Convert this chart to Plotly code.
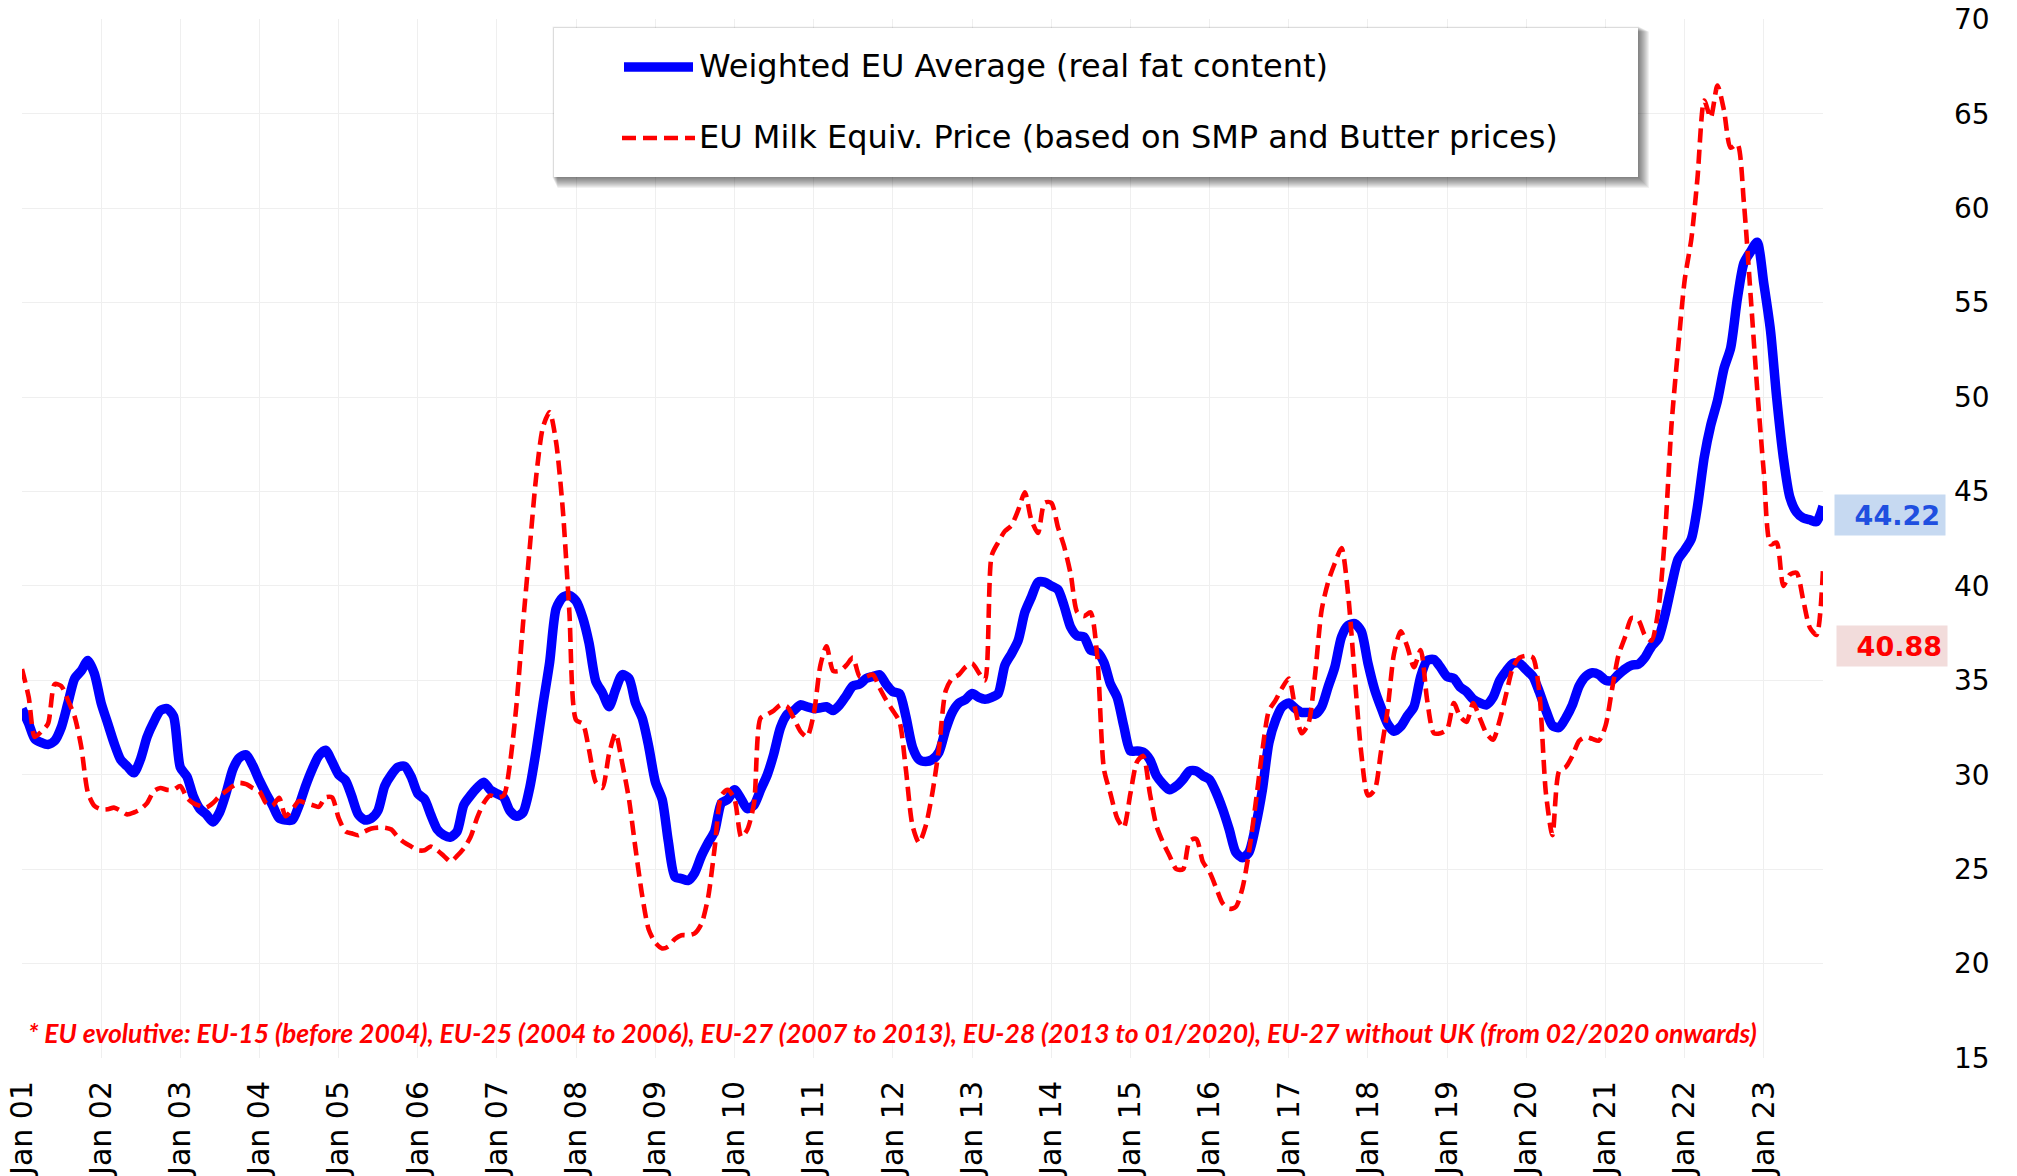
import pandas as pd
import plotly.graph_objects as go

# ---------------- data (monthly, Jan 2001 - Oct 2023) ----------------
weighted_eu_avg = [
    33.5, 32.7, 31.9, 31.7, 31.6, 31.8, 32.5, 33.8, 35.1, 35.5, 36.05, 35.35,
    33.8, 32.7, 31.7, 30.8, 30.45, 30.1, 30.8, 32.0, 32.8, 33.4, 33.5, 33.1,
    30.4, 29.9, 28.9, 28.2, 27.9, 27.5, 28.0, 29.05, 30.3, 30.9, 31.06, 30.5,
    29.7, 29.0, 28.4, 27.7, 27.6, 27.6, 28.35, 29.4, 30.3, 31.0, 31.3, 30.7,
    30.0, 29.7, 28.9, 27.9, 27.6, 27.7, 28.1, 29.4, 30.0, 30.4, 30.45, 29.9,
    29.0, 28.7, 27.9, 27.1, 26.8, 26.7, 27.0, 28.4, 28.9, 29.3, 29.6, 29.2,
    29.0, 28.8, 28.1, 27.8, 28.0, 29.3, 31.3, 33.7, 35.95, 38.8, 39.4, 39.5,
    39.2, 38.3, 36.96, 34.95, 34.35, 33.6, 34.5, 35.3, 35.1, 33.8, 33.0, 31.5,
    29.6, 28.7, 26.5, 24.6, 24.5, 24.4, 24.8, 25.7, 26.4, 27.0, 28.5, 28.7,
    29.2, 28.7, 28.2, 28.4, 29.2, 30.0, 31.1, 32.5, 33.2, 33.4, 33.7, 33.6,
    33.5, 33.55, 33.6, 33.4, 33.7, 34.2, 34.7, 34.8, 35.1, 35.2, 35.3, 34.8,
    34.4, 34.3, 33.1, 31.45, 30.8, 30.7, 30.8, 31.2, 32.4, 33.3, 33.8, 33.98,
    34.3, 34.1, 34.0, 34.1, 34.3, 35.8, 36.4, 37.1, 38.6, 39.4, 40.2, 40.2,
    40.0, 39.8, 38.95, 37.8, 37.35, 37.3, 36.6, 36.5, 35.95, 34.8, 34.1, 32.6,
    31.26, 31.26, 31.2, 30.8, 29.95, 29.5, 29.2, 29.4, 29.76, 30.2, 30.2, 29.95,
    29.75, 29.05, 28.2, 27.1, 25.9, 25.6, 25.9, 27.3, 29.2, 31.7, 32.9, 33.6,
    33.8, 33.5, 33.3, 33.3, 33.2, 33.6, 34.65, 35.7, 37.3, 37.9, 38.0, 37.6,
    35.9, 34.5, 33.6, 32.7, 32.3, 32.55, 33.1, 33.6, 35.2, 36.05, 36.1, 35.7,
    35.2, 35.1, 34.65, 34.4, 34.0, 33.8, 33.7, 34.1, 35.0, 35.5, 35.9, 35.9,
    35.55, 35.2, 34.4, 33.4, 32.6, 32.5, 33.0, 33.7, 34.7, 35.2, 35.4, 35.3,
    35.0, 35.0, 35.3, 35.6, 35.8, 35.85, 36.2, 36.8, 37.2, 38.4, 40.0, 41.4,
    41.9, 42.5, 44.2, 46.8, 48.5, 49.8, 51.5, 52.6, 55.2, 57.1, 57.7, 58.2,
    56.0, 53.5, 50.0, 46.8, 44.7, 43.9, 43.6, 43.5, 43.4, 44.22,
]

milk_equiv_price = [
    35.6, 34.1, 32.0, 32.3, 32.7, 34.8, 34.7, 33.95, 33.07, 31.5, 29.05, 28.35,
    28.17, 28.17, 28.26, 28.1, 27.9, 28.0, 28.17, 28.5, 29.13, 29.3, 29.2, 29.2,
    29.4, 28.78, 28.5, 28.35, 28.26, 28.5, 28.87, 29.13, 29.4, 29.57, 29.5, 29.3,
    29.13, 28.5, 28.35, 28.78, 27.8, 28.17, 28.6, 28.5, 28.4, 28.3, 28.8, 28.8,
    27.7, 27.0, 26.9, 26.8, 27.0, 27.15, 27.2, 27.2, 27.1, 26.7, 26.4, 26.2,
    26.0, 26.0, 26.2, 26.0, 25.7, 25.4, 25.7, 26.1, 26.7, 27.7, 28.5, 28.9,
    28.8, 28.9, 30.5, 33.7, 37.97, 42.0, 45.8, 48.4, 49.2, 47.6, 44.0, 38.6,
    32.9, 32.7, 31.3, 29.6, 29.3, 31.1, 32.2, 30.6, 28.7, 26.1, 23.6, 21.8,
    21.1, 20.8, 20.9, 21.3, 21.5, 21.5, 21.6, 22.1, 23.5, 26.1, 28.9, 29.2,
    28.7, 26.7, 27.1, 28.5, 33.0, 33.2, 33.4, 33.7, 33.6, 33.0, 32.3, 32.0,
    33.2, 35.8, 36.8, 35.5, 35.5, 35.8, 36.2, 35.2, 35.2, 35.3, 34.6, 33.96,
    33.4, 32.8, 30.3, 27.3, 26.4, 27.3, 29.0, 31.4, 34.45, 35.1, 35.3, 35.7,
    35.9, 35.4, 35.0, 41.6, 42.3, 42.9, 43.2, 44.0, 44.95, 43.5, 42.8, 44.4,
    44.4, 43.1, 42.1, 40.6, 38.6, 38.4, 38.6, 36.3, 30.3, 29.0, 27.7, 27.2,
    29.0, 30.7, 31.0, 29.0, 27.3, 26.4, 25.7, 25.0, 25.0, 26.5, 26.6, 25.4,
    24.85, 24.0, 23.2, 22.9, 23.0, 24.0, 25.9, 28.5, 31.3, 33.4, 33.95, 34.6,
    35.1, 33.4, 32.2, 32.7, 35.2, 38.7, 40.2, 41.2, 42.0, 39.6, 35.2, 31.15,
    28.9, 29.2, 31.15, 33.4, 36.4, 37.6, 36.8, 35.7, 36.6, 33.95, 32.2, 32.2,
    32.4, 33.8, 33.1, 32.8, 33.8, 33.0, 32.2, 31.85, 32.9, 34.3, 35.7, 36.2,
    36.3, 36.2, 34.4, 29.0, 26.8, 30.2, 30.4, 31.0, 31.8, 32.0, 31.9, 31.8,
    32.6, 34.6, 36.3, 37.3, 38.3, 38.2, 37.4, 37.1, 38.7, 42.5, 48.5, 52.5,
    56.2, 58.4, 61.6, 65.7, 64.8, 66.5, 65.2, 63.2, 63.4, 60.3, 55.4, 50.5,
    46.0, 42.2, 42.3, 40.0, 40.6, 40.7, 39.3, 37.8, 37.4, 40.88,
]

series_names = [
    "Weighted EU Average (real fat content)",
    "EU Milk Equiv. Price (based on SMP and Butter prices)",
]
tick_years = list(range(2001, 2024))
tick_text = [f"Jan {y % 100:02d}" for y in tick_years]
y_ticks = list(range(15, 71, 5))
footnote = ("* EU evolutive: EU-15 (before 2004), EU-25 (2004 to 2006), "
            "EU-27 (2007 to 2013), EU-28 (2013 to 01/2020), "
            "EU-27 without UK (from 02/2020 onwards)")

dates = pd.date_range("2001-01-01", periods=len(weighted_eu_avg), freq="MS")
tick_vals = [f"{y}-01-01" for y in tick_years]

# ---------------- geometry helpers ----------------
W, H = 2017, 1176
ML, MR, MT, MB = 22, 194, 19, 118
PW, PH = W - ML - MR, H - MT - MB


def px(x):
    return (x - ML) / PW


def py(y):
    return 1 - (y - MT) / PH


BLUE = "#0000FF"
RED = "#FF0000"
GRID = "#EFEFEF"
RED_DASH = "14px,7px"

fig = go.Figure()
fig.add_trace(go.Scatter(
    x=dates, y=weighted_eu_avg, mode="lines", name=series_names[0],
    line=dict(color=BLUE, width=9.5, shape="spline", smoothing=0.7),
    showlegend=False,
))
fig.add_trace(go.Scatter(
    x=dates, y=milk_equiv_price, mode="lines", name=series_names[1],
    line=dict(color=RED, width=4.6, dash=RED_DASH, shape="spline", smoothing=0.7),
    showlegend=False,
))

shapes = []
# legend box shadow + box
bx0, by0, bx1, by1 = 554, 28, 1638, 177
for i in range(1, 12):
    shapes.append(dict(type="rect", xref="paper", yref="paper",
                       x0=px(bx0 - 2 + i * 0.5), x1=px(bx1 + i), y0=py(by0 - 2 + i * 0.5), y1=py(by1 + i),
                       fillcolor="rgba(0,0,0,0.055)", line=dict(width=0), layer="above"))
shapes.append(dict(type="rect", xref="paper", yref="paper",
                   x0=px(bx0), x1=px(bx1), y0=py(by0), y1=py(by1),
                   fillcolor="white", line=dict(width=0), layer="above"))
# legend samples
shapes.append(dict(type="line", xref="paper", yref="paper",
                   x0=px(624), x1=px(693), y0=py(67), y1=py(67),
                   line=dict(color=BLUE, width=9.5), layer="above"))
shapes.append(dict(type="line", xref="paper", yref="paper",
                   x0=px(622), x1=px(695), y0=py(138), y1=py(138),
                   line=dict(color=RED, width=4.6, dash=RED_DASH), layer="above"))

annotations = [
    dict(xref="paper", yref="paper", x=px(697), y=py(66), xanchor="left", yanchor="middle",
         text=series_names[0], showarrow=False,
         font=dict(family="DejaVu Sans", size=32, color="black")),
    dict(xref="paper", yref="paper", x=px(697), y=py(137), xanchor="left", yanchor="middle",
         text=series_names[1], showarrow=False,
         font=dict(family="DejaVu Sans", size=32, color="black")),
    dict(xref="paper", yref="paper", x=px(26), y=py(1033), xanchor="left", yanchor="middle",
         text=f"<b><i>{footnote}</i></b>", showarrow=False,
         font=dict(family="Lato", size=26.5, color=RED)),
    dict(xref="paper", yref="paper", x=px(1946), y=py(515), xanchor="right", yanchor="middle",
         text=f"<b>{weighted_eu_avg[-1]:.2f}</b>", showarrow=False, align="right",
         width=100, height=30, borderpad=5, bgcolor="#C6D9F1",
         font=dict(family="DejaVu Sans", size=27, color="#1F4FE0")),
    dict(xref="paper", yref="paper", x=px(1948), y=py(646), xanchor="right", yanchor="middle",
         text=f"<b>{milk_equiv_price[-1]:.2f}</b>", showarrow=False, align="right",
         width=100, height=30, borderpad=5, bgcolor="#F2DCDB",
         font=dict(family="DejaVu Sans", size=27, color=RED)),
]

fig.update_layout(
    width=W, height=H, autosize=False,
    margin=dict(l=ML, r=MR, t=MT, b=MB, pad=0, autoexpand=False),
    paper_bgcolor="white", plot_bgcolor="white",
    showlegend=False,
    shapes=shapes, annotations=annotations,
    xaxis=dict(
        type="date", range=["2001-01-01", "2023-10-01"], automargin=False,
        tickmode="array", tickvals=tick_vals, ticktext=tick_text, tickangle=-90,
        showgrid=True, gridcolor=GRID, gridwidth=1, zeroline=False, showline=False,
        ticks="", ticklabelstandoff=16, ticklabeloverflow="allow",
        tickfont=dict(family="DejaVu Sans", size=30, color="black"),
    ),
    yaxis=dict(
        side="right", range=[15, 70.02], automargin=False,
        tickmode="array", tickvals=y_ticks,
        showgrid=True, gridcolor=GRID, gridwidth=1, zeroline=False, showline=False,
        ticks="", ticklabelstandoff=130, ticklabeloverflow="allow",
        tickfont=dict(family="DejaVu Sans", size=28, color="black"),
    ),
)

fig.write_html(
    "out.html",
    config={"displayModeBar": False},
    post_script="document.body.style.margin='0';document.body.style.padding='0';"
                "document.documentElement.style.overflow='hidden';",
)
